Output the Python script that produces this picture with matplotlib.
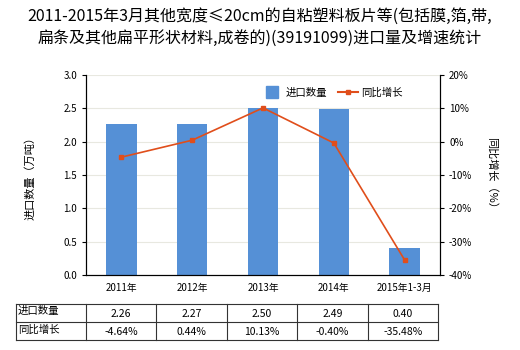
import matplotlib.pyplot as plt
from matplotlib.lines import Line2D
import numpy as np

plt.rcParams['font.family'] = ['Noto Sans CJK SC', 'DejaVu Sans']

# data
categories = ['2011年', '2012年', '2013年', '2014年', '2015年1-3月']
qty = [2.26, 2.27, 2.50, 2.49, 0.40]
growth = [-4.64, 0.44, 10.13, -0.40, -35.48]
qty_labels = ['2.26', '2.27', '2.50', '2.49', '0.40']
growth_labels = ['-4.64%', '0.44%', '10.13%', '-0.40%', '-35.48%']

bar_color = '#5590d6'
line_color = '#e04e1b'

fig = plt.figure(figsize=(5.2, 3.5), dpi=100)
ax = fig.add_axes([86/520, 1-275/350, 354/520, 200/350])
x = np.arange(len(categories))

ax.bar(x, qty, width=0.43, color=bar_color, zorder=2)
ax.set_xlim(-0.5, 4.5)
ax.set_ylim(0, 3.0)
ax.set_yticks(np.arange(0, 3.01, 0.5))
ax.set_yticklabels(['%.1f' % v for v in np.arange(0, 3.01, 0.5)])
ax.grid(axis='y', color='#e8e8e0', linewidth=0.8, zorder=0)
ax.set_xticks(x)
ax.set_xticklabels(categories)
ax.tick_params(axis='both', labelsize=7, length=3, width=0.8)
ax.tick_params(axis='x', length=0, pad=6)
ax.spines['top'].set_visible(False)
ax.set_ylabel('进口数量（万吨）', fontsize=8, labelpad=20)

ax2 = ax.twinx()
ax2.plot(x, growth, color=line_color, marker='s', markersize=3.5, linewidth=1.2, zorder=3)
ax2.set_ylim(-40, 20)
ax2.set_yticks(range(-40, 21, 10))
ax2.set_yticklabels(['%d%%' % v for v in range(-40, 21, 10)])
ax2.tick_params(axis='y', labelsize=7, length=3, width=0.8)
ax2.spines['top'].set_visible(False)
ax2.set_ylabel('同比增长（%）', fontsize=8, rotation=-90, labelpad=18)

handles = [Line2D([], [], linestyle='none', marker='s', markersize=8, color=bar_color),
           Line2D([], [], color=line_color, marker='s', markersize=3.5, linewidth=1.5)]
ax2.legend(handles, ['进口数量', '同比增长'], loc='upper left', bbox_to_anchor=(0.47, 0.985), ncol=2,
           frameon=False, fontsize=7.5, handlelength=2.0, columnspacing=1.0,
           handletextpad=0.3)

fig.suptitle('2011-2015年3月其他宽度≤20cm的自粘塑料板片等(包括膜,箔,带,\n扁条及其他扁平形状材料,成卷的)(39191099)进口量及增速统计',
             fontsize=11.5, y=0.978, linespacing=1.4)

# table below the chart
tab = fig.add_axes([15.7/520, 1-340/350, (438.3-15.7)/520, (340-304.3)/350])
tab.set_xlim(0, 422.6)
tab.set_ylim(0, 2)
tab.axis('off')
col_edges = [0, 70] + [70 + 70.5*i for i in range(1, 6)]
for xe in col_edges:
    tab.plot([xe, xe], [0, 2], color='#333333', linewidth=0.8, clip_on=False)
for ye in [0, 1, 2]:
    tab.plot([0, col_edges[-1]], [ye, ye], color='#333333', linewidth=0.8, clip_on=False)
row_names = ['进口数量', '同比增长']
rows = [qty_labels, growth_labels]
for r in range(2):
    yc = 1.5 - r
    tab.text(2, yc + 0.1, row_names[r], fontsize=7.5, va='center', ha='left')
    for c in range(5):
        xc = (col_edges[c+1] + col_edges[c+2]) / 2
        tab.text(xc, yc - 0.05, rows[r][c], fontsize=7.5, va='center', ha='center')

fig.savefig('out.png', dpi=100)
